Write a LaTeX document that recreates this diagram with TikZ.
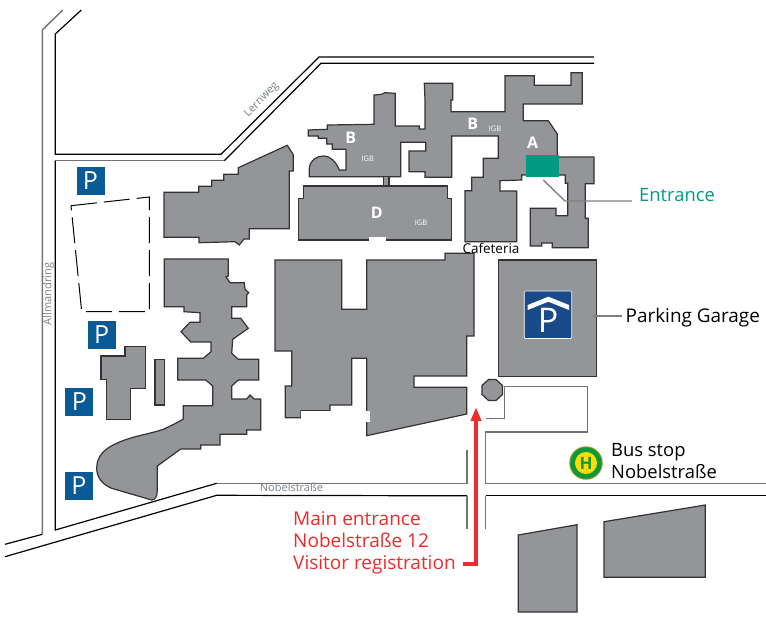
\documentclass[tikz,border=0pt]{standalone}
\usepackage{fontspec}
\setmainfont{Open Sans}
\usetikzlibrary{arrows.meta}
\definecolor{bldggray}{HTML}{939598}
\definecolor{bldgline}{HTML}{333333}
\definecolor{signblue}{HTML}{0A5A96}
\definecolor{garageblue}{HTML}{1A4A8A}
\definecolor{entrygreen}{HTML}{009B82}
\definecolor{mainred}{HTML}{EE2A2A}
\definecolor{streetgray}{HTML}{77808C}
\definecolor{leadgray}{HTML}{808080}
\definecolor{busgreen}{HTML}{0A9A3C}
\definecolor{busyellow}{HTML}{FFDD00}
\definecolor{busrim}{HTML}{A89A30}

\begin{document}
\begin{tikzpicture}[x=1pt,y=-1pt]
\tikzstyle{bldg}=[fill=bldggray,draw=bldgline,line width=1.2pt,line join=miter]
\tikzstyle{road}=[draw=black,line width=1.2pt]
\tikzstyle{greyroad}=[draw=black!55,line width=1.4pt]
\tikzstyle{dashroad}=[draw=black,line width=1pt,dash pattern=on 26pt off 7pt]
\tikzstyle{lead}=[draw=leadgray,line width=1.4pt]
\tikzstyle{parksign}=[fill=signblue,text=white,minimum size=28pt,inner sep=0pt,font=\fontsize{25}{25}\selectfont]
\tikzstyle{wing}=[text=white,font=\fontsize{16}{16}\selectfont\bfseries,inner sep=0pt]
\tikzstyle{igb}=[text=white,font=\fontsize{7.5}{8}\selectfont,inner sep=0pt]
\tikzstyle{street}=[text=streetgray,font=\fontsize{11}{11}\selectfont,inner sep=0pt]
\tikzstyle{lab}=[font=\fontsize{18.4}{20}\selectfont,inner sep=0pt,anchor=base west]
\tikzstyle{redlab}=[lab,text=mainred,font=\fontsize{19}{20}\selectfont]
\useasboundingbox (0,0) rectangle (766,619);

\draw[greyroad] (62.7,10) -- (42.3,30) -- (42.3,534.3);
\draw[road] (42.3,534.3) -- (5,544.3);
\draw[road] (81.3,10) -- (55.3,34) -- (55.3,154.3) -- (221,154.3) -- (319,57) -- (594,57);
\draw[road] (594,63.3) -- (321,63.3) -- (224.3,160.7);
\draw[greyroad] (224.3,160.7) -- (55.3,160.7);
\draw[road] (55.3,160.7) -- (55.3,530) -- (216.7,483.3);
\draw[greyroad] (216.7,483.3) -- (467,483.3) -- (467,450);
\draw[road] (5,556.7) -- (216.7,495.3) -- (467,495.8);
\draw[greyroad] (467,495.8) -- (467,529.3);
\draw[greyroad] (485.7,529.3) -- (485.7,495.8);
\draw[road] (485.7,495.8) -- (766,495.8);
\draw[greyroad] (766,483.3) -- (485.7,483.3) -- (485.7,432) -- (587.7,432) -- (587.7,386.7) -- (504.7,386.7) -- (504.7,418.7) -- (485.7,418.7);

\draw[dashroad] (71,205.7) -- (149.3,197) -- (149.3,311.7) -- (81.7,311.7) -- cycle;

\draw[bldg] (308.3,130) -- (327.3,129.3) -- (327.3,125) -- (374,124.3) -- (374,95) -- (381.7,94.3) -- (385,92.7) -- (395.3,93.3) -- (395.3,126) -- (419.3,126) -- (419.3,129) -- (425,129) -- (425,100) -- (424.3,83.3) -- (452.7,83.3) -- (452.7,100) -- (451,100) -- (451,111.7) -- (505,111.7) -- (505,75.7) -- (534.3,75.7) -- (534.3,85.3) -- (571,85.3) -- (571,72.7) -- (582.3,72.7) -- (582.3,104) -- (523.3,104) -- (523.3,120.7) -- (548.3,120.7) -- (557.3,134) -- (557.3,157) -- (594,157) -- (594,183.7) -- (585.3,183.7) -- (585.3,218.3) -- (588.3,218.3) -- (588.3,247.7) -- (552.3,247.7) -- (552.3,243) -- (541.7,243) -- (541.7,246) -- (530.3,246) -- (530.3,208.3) -- (556,208.3) -- (556,215.7) -- (567.7,215.7) -- (567.7,183.3) -- (565.3,183.3) -- (565.3,175) -- (521.7,175) -- (521.7,180) -- (500,180.7) -- (500,191) -- (516.7,191) -- (516.7,241.7) -- (465,241.7) -- (465,190.7) -- (471.7,190.7) -- (471.7,177.3) -- (483.3,177.3) -- (483.3,158.3) -- (498.3,158.3) -- (498.3,136) -- (451.7,136) -- (451.7,177.3) -- (425,177.3) -- (425,171.7) -- (409,171.7) -- (409,151) -- (425.7,151) -- (425.7,142.3) -- (400.7,142.3) -- (400.7,176.7) -- (309.3,176.7) -- (309.3,168.3) .. controls (310,160) and (317,156) .. (323.3,156) .. controls (331,156) and (336,162) .. (339.3,170) -- (346,170) -- (346,149.3) -- (332.3,149.3) -- (332.3,144) -- (326.7,144) -- (326.7,138.3) -- (318.3,138.3) -- (318.3,136) -- (308.3,136) -- cycle;
\draw[bldg] (383.7,176.7) rectangle (389,186);
\draw[bldg] (303.3,186) -- (447.3,186) -- (447.3,198.3) -- (451.3,198.3) -- (451.3,240) -- (298.3,240) -- (298.3,198.3) -- (303.3,198.3) -- cycle;
\fill[white] (369,237.3) rectangle (386,241);
\draw[bldg] (164,192.3) -- (198.7,192.3) -- (198.7,186.3) -- (211.7,186.3) -- (211.7,180.3) -- (223.7,180.3) -- (223.7,174.3) -- (238.3,174.3) -- (238.3,167.7) -- (287.3,145.3) -- (293.3,154.7) -- (293.3,171) -- (289.3,171) -- (289.3,228.7) -- (249.3,228.7) -- (249.3,239) -- (244,239) -- (239.3,245) -- (235,241.7) -- (199,242.7) -- (199,237.3) -- (164,237.3) -- cycle;
\draw[bldg] (164.3,259) -- (228.3,259) -- (228.3,276) -- (226,276.7) -- (230,282.7) -- (244.3,282.7) -- (245,289.3) -- (248.7,292.7) -- (246.7,295) -- (246.7,306.7) -- (231.7,306.7) -- (231.7,318.3) -- (240.7,318.3) -- (248.3,328.3) -- (232.7,339.3) -- (231.7,353.3) -- (238.3,359.3) -- (258.7,359.3) -- (258.7,380) -- (238.3,380) -- (231.7,386) -- (231.7,399) -- (246.7,399) -- (250,395) -- (254,399) -- (260.7,399) -- (260.7,430) -- (246.7,430) -- (246.7,434.3) -- (220,434.3) -- (220,445) -- (200.7,445) -- (200.7,449) -- (180.7,449) -- (157.3,466) -- (157.3,490) .. controls (157.3,497) and (155,500) .. (151.7,500) -- (111.7,488.3) .. controls (101,484) and (96.7,476) .. (96.7,468.3) .. controls (96.7,455) and (106,448) .. (116.7,443.3) .. controls (132,436) and (150,434) .. (163.3,429.3) .. controls (170,426) and (177,423) .. (183.3,419) -- (183.3,405.7) -- (212.7,405.7) -- (212.7,386) -- (205.7,380) -- (177.7,380) -- (177.7,358.3) -- (203.3,358.3) -- (211,351.7) -- (211,342) -- (190.7,342) -- (181,331.7) -- (190,322.3) -- (200,322.3) -- (200,312.7) -- (184,311.7) -- (184,306.7) -- (164.3,306.7) -- cycle;
\draw[bldg] (101,356) -- (125,356) -- (125,346.7) -- (145.7,346.7) -- (145.7,388.3) -- (130.7,388.3) -- (130.7,419.3) -- (106.7,419.3) -- (106.7,379.3) -- (101,379.3) -- cycle;
\draw[bldg] (155,359.3) rectangle (164.7,405);
\draw[bldg] (275,260) -- (341.7,260) -- (341.7,309.3) -- (366.7,309.3) -- (366.7,260) -- (445,260) -- (445,253.3) -- (474,253.3) -- (474,336) -- (466.7,336) -- (466.7,376) -- (414,376) -- (414,387.3) -- (466.7,387.3) -- (466.7,414) -- (366.7,435.7) -- (366.7,358.3) -- (351.7,358.3) -- (351.7,405) -- (330,405) -- (330,410.7) -- (301,410.7) -- (301,417.7) -- (285.3,417.7) -- (285.3,386) -- (291.7,386) -- (291.7,351) -- (275,351) -- cycle;
\fill[white] (301,411.2) rectangle (370,422);
\draw[bldg] (498.3,260) rectangle (596.7,376.7);
\draw[bldg] (488.5,379.5) -- (496,379.5) -- (502.5,385.5) -- (502.5,394.5) -- (496,400.5) -- (488.5,400.5) -- (482,394.5) -- (482,385.5) -- cycle;
\draw[bldg] (518.3,535) -- (577,524.7) -- (577,612) -- (518.3,612) -- cycle;
\draw[bldg] (604,521.7) -- (705.3,505) -- (705.3,577.3) -- (604,577.3) -- cycle;

\foreach \px/\py/\pname in {90.5/180.5/parkA,101.7/334.7/parkB,79.3/401.5/parkC,78.9/485.8/parkD}
  \node[parksign] (\pname) at (\px,\py) {P};

\node[fill=garageblue,draw=white,line width=0.6pt,rounded corners=1pt,minimum size=47.5pt,inner sep=0pt] (garagesign) at (548,314.7) {};
\node[text=white,font=\fontsize{34}{34}\selectfont,inner sep=0pt] (garagep) at (548,320) {P};
\fill[white] (527.7,305) -- (548.3,296.7) -- (569,305) -- (569,310) -- (548.3,301.7) -- (527.7,310) -- cycle;

\node[fill=entrygreen,minimum width=33pt,minimum height=22pt,inner sep=0pt] (entrybox) at (542.5,166) {};
\node[lab,text=entrygreen] (entrylab) at (639,201.5) {Entrance};
\coordinate (entryfoot) at (543.3,180);
\coordinate (entrybend) at (565,201);
\draw[lead] (entryfoot) -- (entrybend) -- (632,201);

\node[lab,font=\fontsize{18.9}{20}\selectfont] (garagelab) at (625.5,322.5) {Parking Garage};
\coordinate (garageedge) at (593,316);
\coordinate (garageend) at (622,316);
\draw[lead] (garageedge) -- (garageend);

\node[circle,fill=busrim,minimum size=33.5pt,inner sep=0pt] (busrimc) at (586,463) {};
\node[circle,fill=busgreen,minimum size=31.5pt,inner sep=0pt] (busout) at (586,463) {};
\node[circle,fill=busyellow,minimum size=22pt,inner sep=0pt,text=busgreen,font=\fontsize{17}{17}\selectfont\bfseries] (busin) at (586,463) {H};
\node[lab] (buslabA) at (611,456) {Bus stop};
\node[lab] (buslabB) at (611,478) {Nobelstraße};

\node[redlab] (mainlabA) at (293,525) {Main entrance};
\node[redlab] (mainlabB) at (293,547) {Nobelstraße 12};
\node[redlab] (mainlabC) at (293,569.5) {Visitor registration};
\coordinate (arrowfoot) at (463.3,564);
\coordinate (arrowbend) at (476,564);
\coordinate (arrowtip) at (476,407.3);
\draw[draw=mainred,line width=4.6pt,-{Triangle[length=13.5pt,width=10pt]}] (arrowfoot) -- (arrowbend) -- (arrowtip);

\node[wing] (wingA) at (532.7,142.7) {A};
\node[wing] (wingBa) at (350.7,137.7) {B};
\node[wing] (wingBb) at (472.7,123.3) {B};
\node[wing] (wingD) at (376.7,212.7) {D};
\node[igb] (igbA) at (367.7,159) {IGB};
\node[igb] (igbB) at (495,129) {IGB};
\node[igb] (igbC) at (421,223) {IGB};
\node[font=\fontsize{13.5}{14}\selectfont,inner sep=0pt] (cafe) at (491,248.5) {Cafeteria};

\node[street,rotate=46] (lernweg) at (261.7,100) {Lernweg};
\node[street,rotate=90] (allmandring) at (48.5,294) {Allmandring};
\node[street] (nobel) at (291.5,487.7) {Nobelstraße};
\end{tikzpicture}
\end{document}
